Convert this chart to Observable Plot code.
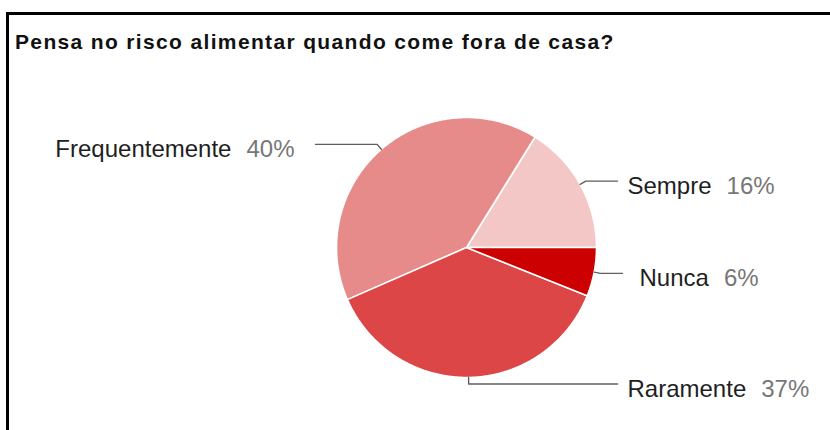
<!DOCTYPE html>
<html><head><meta charset="utf-8">
<script src="https://cdn.jsdelivr.net/npm/d3@7"></script>
<script src="https://cdn.jsdelivr.net/npm/@observablehq/plot@0.6"></script>
<style>
html,body{margin:0;padding:0;background:#fff}
body{width:830px;height:430px;overflow:hidden;position:relative;font-family:"Liberation Sans",Arial,sans-serif}
#frame{position:absolute;left:6px;top:12px;width:900px;height:500px;border-top:3px solid #000;border-left:3px solid #000}
#title{position:absolute;left:15px;top:31px;font-weight:bold;font-size:21px;line-height:21px;letter-spacing:1.35px;color:#111;white-space:nowrap}
#chart{position:absolute;left:0;top:70px}
</style></head><body>
<div id="frame"></div>
<div id="title">Pensa no risco alimentar quando come fora de casa?</div>
<div id="chart"></div>
<script>
// Data (counter-clockwise from 3 o'clock)
const categories = ["Sempre", "Frequentemente", "Raramente", "Nunca"];
const values = [16, 40, 37, 6];
const percentLabels = ["16%", "40%", "37%", "6%"];
const colors = ["#f4c7c7", "#e68a8a", "#dc4646", "#cc0000"];

// Layout
const W = 830, H = 360, CX = 466, CY = 177, R = 130;
const tweak = {Nunca: {line: 5, text: 12}};

const ctx = document.createElement("canvas").getContext("2d");
ctx.font = "24px 'Liberation Sans', Arial";
const tw = s => ctx.measureText(s).width;

const data = categories.map((c, i) => ({category: c, value: values[i], pct: percentLabels[i]}));
const arcs = d3.pie().sort(null).value(d => d.value)(data);

const slicePts = [];
const leaderPts = [];
const nameLabels = [];
const pctLabels = [];
for (const a of arcs) {
  const c = a.data.category;
  const n = Math.max(2, Math.ceil((a.endAngle - a.startAngle) / (Math.PI / 360)));
  slicePts.push({category: c, x: 0, y: 0});
  for (let k = 0; k <= n; k++) {
    const t = a.startAngle + (a.endAngle - a.startAngle) * k / n;
    slicePts.push({category: c, x: Math.cos(t), y: Math.sin(t)});
  }
  const mid = (a.startAngle + a.endAngle) / 2;
  const side = Math.cos(mid) >= 0 ? 1 : -1;
  const tk = tweak[c] || {line: 0, text: 0};
  const ax = Math.cos(mid), ay = Math.sin(mid);
  const ex = 1.05 * ax, ey = 1.05 * ay;
  const endX = side * (151 + tk.line) / R;
  leaderPts.push({category: c, x: ax, y: ay}, {category: c, x: ex, y: ey}, {category: c, x: endX, y: ey});
  const nw = tw(c), pw = tw(a.data.pct);
  let nx, px;
  if (side > 0) {
    nx = endX + (10 + tk.text - tk.line) / R;
    px = nx + (nw + 15) / R;
  } else {
    px = endX - (21 + pw) / R;
    nx = px - (15 + nw) / R;
  }
  nameLabels.push({x: nx, y: ey, text: c});
  pctLabels.push({x: px, y: ey, text: a.data.pct});
}

const chart = Plot.plot({
  width: W, height: H, margin: 0,
  x: {domain: [-CX / R, (W - CX) / R], axis: null},
  y: {domain: [-(H - CY) / R, CY / R], axis: null},
  style: {fontFamily: "'Liberation Sans', Arial, sans-serif", background: "transparent"},
  marks: [
    ...categories.map((c, i) => Plot.line(slicePts.filter(d => d.category === c), {
      x: "x", y: "y", fill: colors[i], stroke: "white", strokeWidth: 1.6,
      strokeLinejoin: "round", curve: "linear-closed"
    })),
    Plot.line(leaderPts, {x: "x", y: "y", z: "category", stroke: "#5f5f5f", strokeWidth: 1.4}),
    Plot.text(nameLabels, {x: "x", y: "y", text: "text", textAnchor: "start", fill: "#1f1f1f", fontSize: 24, dy: 5}),
    Plot.text(pctLabels, {x: "x", y: "y", text: "text", textAnchor: "start", fill: "#777", fontSize: 24, dy: 5})
  ]
});
document.getElementById("chart").appendChild(chart);
</script>
</body></html>
